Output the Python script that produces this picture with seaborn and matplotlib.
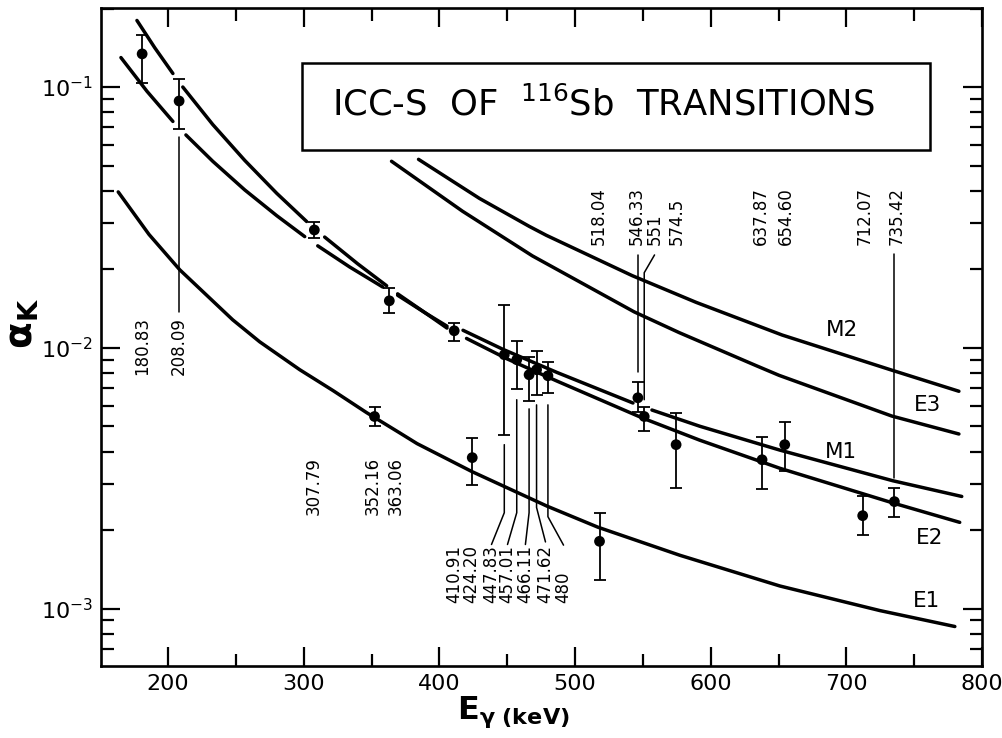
import numpy as np
import pandas as pd
import matplotlib
matplotlib.use("Agg")
import matplotlib.pyplot as plt
import matplotlib.patches as mpatches
from matplotlib.ticker import LogLocator, MultipleLocator, NullFormatter
import seaborn as sns

# ---------------- data ----------------
energies = [180.83, 208.09, 307.79, 352.16, 363.06, 410.91, 424.20, 447.83, 457.01,
            466.11, 471.62, 480.0, 518.04, 546.33, 551.0, 574.5, 637.87, 654.60,
            712.07, 735.42]
alpha_k = [0.134, 0.0884, 0.0283, 0.00545, 0.01514, 0.01162, 0.00379, 0.00940, 0.00900,
           0.00788, 0.00824, 0.00781, 0.00181, 0.00643, 0.00545, 0.00425, 0.00372, 0.00425,
           0.00227, 0.00257]
alpha_lo = [0.104, 0.069, 0.0264, 0.00499, 0.01361, 0.01064, 0.00297, 0.00464, 0.00697,
            0.00627, 0.00661, 0.00673, 0.00129, 0.00569, 0.00481, 0.00289, 0.00288, 0.00338,
            0.00192, 0.00225]
alpha_hi = [0.159, 0.107, 0.0304, 0.00594, 0.01698, 0.01247, 0.00452, 0.01462, 0.01064,
            0.00925, 0.00975, 0.00884, 0.00233, 0.00741, 0.00595, 0.00563, 0.00456, 0.00520,
            0.00269, 0.00291]
energy_labels = ["180.83", "208.09", "307.79", "352.16", "363.06", "410.91", "424.20",
                 "447.83", "457.01", "466.11", "471.62", "480", "518.04", "546.33", "551",
                 "574.5", "637.87", "654.60", "712.07", "735.42"]

# theoretical ICC curves (NaN marks a break in the drawn line)
nan = np.nan
e1_E = [163.2, 185.9, 208.6, 247.6, 267.5, 297.0, 321.6, 346.3, 370.6, 383.5, 424.0, 479.3,
        516.9, 577.3, 651.0, 724.7, 780.0]
e1_a = [0.0396, 0.0272, 0.0199, 0.0128, 0.01054, 0.00824, 0.00685, 0.00564, 0.00472, 0.00429,
        0.00335, 0.00247, 0.00205, 0.00160, 0.00122, 0.000982, 0.000853]

e2_E = [177.0, 190.2, 203.5, nan, 210.8, 232.9, 256.5, 280.1, 302.1, nan, 315.4, 339.7, 361.1, nan,
        369.2, 390.0, 405.6, nan, 420.0, 450.0, 486.7, 550.0, 592.0, 651.0, 734.3, 783.6]
e2_a = [0.180, 0.1413, 0.1127, nan, 0.1000, 0.0718, 0.0523, 0.0391, 0.0305, nan, 0.02658, 0.0210,
        0.01729, nan, 0.0161, 0.01356, 0.0119, nan, 0.01086, 0.00906, 0.00745, 0.00537, 0.00442,
        0.00345, 0.00254, 0.00214]

m1_E = [165.2, 184.4, 203.5, nan, 213.1, 232.9, 256.5, 280.1, 300.7, nan, 310.3, 333.9, 358.2, nan,
        369.2, 390.0, 405.6, nan, 417.4, 446.9, 486.7, 542.7, nan, 556.7, 592.0, 651.0, 734.3, 785.1]
m1_a = [0.1297, 0.0963, 0.0738, nan, 0.0655, 0.0519, 0.0403, 0.0321, 0.02669, nan, 0.0246, 0.0204,
        0.0171, nan, 0.0159, 0.01356, 0.0121, nan, 0.01167, 0.00986, 0.00804, 0.00614, nan,
        0.00577, 0.00500, 0.00405, 0.00309, 0.00269]

e3_E = [364.7, 417.0, 468.5, 543.6, 576.8, 633.5, 650.4, 733.6, 783.0]
e3_a = [0.0519, 0.0334, 0.02252, 0.01373, 0.01143, 0.00854, 0.00784, 0.00547, 0.00467]

m2_E = [384.6, 429.5, 466.3, 478.8, 542.2, 589.3, 652.7, 733.7, 783.0]
m2_a = [0.0528, 0.0374, 0.0292, 0.0270, 0.0189, 0.01493, 0.01119, 0.00820, 0.00681]

curve_names = ["E1", "E2", "M1", "E3", "M2"]

# ---------------- layout ----------------
label_x = [180.6, 207.9, 307.3, 350.7, 367.7, 411.1, 423.6, 438.4, 450.2, 463.4, 478.2, 491.5,
           517.5, 545.4, 558.6, 574.8, 636.7, 655.1, 713.3, 736.9]
label_y = [0.00788, 0.00788, 0.00229, 0.00229, 0.00229] + [0.00105] * 7 + [0.0248] * 8
name_x = [759.4, 761.5, 696.0, 760.0, 696.7]
name_y = [0.00107, 0.00186, 0.00398, 0.00602, 0.01167]

sns.set_theme(style="ticks")
plt.rcParams["font.family"] = ["DejaVu Sans"]
plt.rcParams["mathtext.fontset"] = "dejavusans"

fig = plt.figure(figsize=(10.02, 7.38), dpi=100)
ax = fig.add_axes([0.1008, 0.0976, 0.8792, 0.8916])
ax.set_yscale("log")


def segments(xs, ys):
    xs = np.asarray(xs, float)
    ys = np.asarray(ys, float)
    cut = np.where(np.isnan(xs))[0]
    start = 0
    for c in list(cut) + [len(xs)]:
        if c - start >= 2:
            yield xs[start:c], ys[start:c]
        start = c + 1


for xs, ys in [(e1_E, e1_a), (e2_E, e2_a), (m1_E, m1_a), (e3_E, e3_a), (m2_E, m2_a)]:
    for sx, sy in segments(xs, ys):
        sns.lineplot(x=sx, y=sy, ax=ax, color="black", lw=2.5, estimator=None,
                     sort=False, legend=False)

# data points with error bars
df = pd.DataFrame({"E": energies, "a": alpha_k, "lo": alpha_lo, "hi": alpha_hi})
ax.errorbar(df["E"], df["a"], yerr=[df["a"] - df["lo"], df["hi"] - df["a"]], fmt="none",
            ecolor="black", elinewidth=1.3, capsize=4, capthick=1.3, zorder=3)
sns.scatterplot(data=df, x="E", y="a", ax=ax, color="black", s=60, edgecolor="none",
                zorder=4, legend=False)

# energy labels
for txt, lx, ly in zip(energy_labels, label_x, label_y):
    ax.text(lx, ly, txt, rotation=90, ha="center", va="bottom", fontsize=12,
            color="black")

# leader lines (label -> point)
lk = dict(color="black", lw=1.1, zorder=2)
ax.plot([208.09, 208.09], [0.0643, 0.01374], **lk)
ax.plot([447.83, 447.83, 438.4], [0.00425, 0.00233, 0.00176], **lk)
ax.plot([457.01, 457.01, 450.2], [0.00632, 0.00233, 0.00176], **lk)
ax.plot([466.11, 466.11, 463.4], [0.00583, 0.00233, 0.00176], **lk)
ax.plot([471.62, 471.62, 478.2], [0.00604, 0.00244, 0.00180], **lk)
ax.plot([480.0, 480.0, 491.5], [0.00604, 0.00225, 0.00175], **lk)
ax.plot([546.33, 546.33], [0.0227, 0.00809], **lk)
ax.plot([558.6, 551.0, 551.0], [0.0227, 0.0194, 0.00632], **lk)
ax.plot([735.42, 735.42], [0.0229, 0.00318], **lk)

# curve labels
for name, cx, cy in zip(curve_names, name_x, name_y):
    ax.text(cx, cy, name, ha="center", va="center", fontsize=15.5, color="black")

# title box
ax.add_patch(mpatches.Rectangle((0.228, 0.784), 0.713, 0.132, transform=ax.transAxes,
                                fill=False, lw=1.8, ec="black", zorder=5))
ax.text(0.570, 0.854, r"ICC-S  OF  $^{116}$Sb  TRANSITIONS", transform=ax.transAxes,
        ha="center", va="center", fontsize=25.5, color="black", zorder=6)

# axes
ax.set_xlim(150.5, 800)
ax.set_ylim(6.02e-4, 0.201)
ax.xaxis.set_major_locator(MultipleLocator(100))
ax.xaxis.set_minor_locator(MultipleLocator(50))
ax.yaxis.set_major_locator(LogLocator(base=10, numticks=10))
ax.yaxis.set_minor_locator(LogLocator(base=10, subs=np.arange(2, 10), numticks=20))
ax.yaxis.set_minor_formatter(NullFormatter())
ax.tick_params(which="both", direction="in", top=True, right=True, colors="black",
               labelsize=16, width=1.6)
ax.tick_params(which="major", length=14, pad=6)
ax.tick_params(which="minor", length=9)
for sp in ax.spines.values():
    sp.set_linewidth(1.9)
    sp.set_color("black")
ax.grid(False)

ax.set_xlabel(r"$\mathbf{E}_{\mathbf{\gamma\ (keV)}}$", fontsize=23, color="black")
ax.xaxis.set_label_coords(0.468, -0.043)
ax.set_ylabel(r"$\mathbf{\alpha}_{\mathbf{K}}$", fontsize=28, color="black")
ax.yaxis.set_label_coords(-0.068, 0.52)

fig.savefig("out.png", dpi=100, facecolor="white")
